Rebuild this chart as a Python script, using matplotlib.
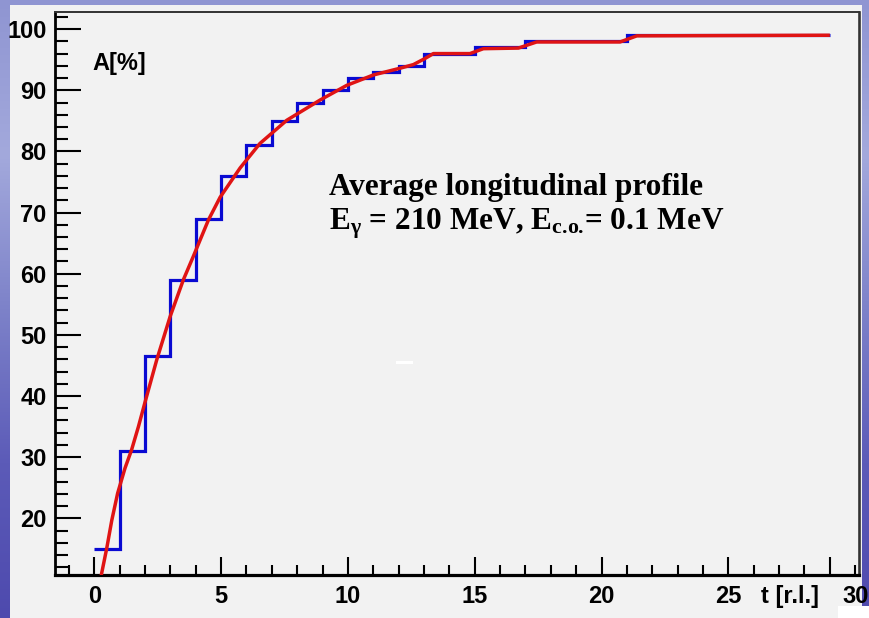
import numpy as np
import matplotlib
matplotlib.use("Agg")
import matplotlib.pyplot as plt
from matplotlib.patches import Rectangle
from matplotlib.colors import LinearSegmentedColormap
from matplotlib.ticker import MultipleLocator, FixedLocator, FixedFormatter

# Cumulative longitudinal profile, one bin per radiation length
bin_edges = list(range(0, 30))
profile_values = [15, 31, 46.5, 59, 69, 76, 81, 85, 88, 90, 92, 93, 94, 96, 96,
                  97, 97, 98, 98, 98, 98, 99, 99, 99, 99, 99, 99, 99, 99]

# Fitted curve (t, A)
fit_t = [0.26, 0.49, 0.69, 0.92, 1.21, 1.47, 1.74, 2.0, 2.46, 2.99, 3.51, 3.90,
         4.50, 4.96, 5.42, 5.75, 6.53, 7.59, 8.9, 9.95, 11.0, 12.05, 12.58,
         13.04, 13.37, 14.81, 15.34, 16.72, 17.44, 20.73, 21.39, 29.0]
fit_a = [10.4, 15.1, 19.7, 24.1, 28.2, 31.2, 35.0, 39.0, 45.9, 53.0, 59.0, 62.8,
         68.8, 72.5, 75.3, 77.3, 81.3, 85.1, 88.4, 90.8, 92.5, 93.6, 94.2,
         95.2, 96.0, 96.0, 96.8, 96.9, 97.9, 97.9, 98.9, 99.0]

x_major = [0, 5, 10, 15, 20, 25, 29]
x_labels = ["0", "5", "10", "15", "20", "25", ""]
y_major = [20, 30, 40, 50, 60, 70, 80, 90, 100]

W, H = 870, 618
fig = plt.figure(figsize=(W / 100, H / 100), dpi=100)

# Slide background: bluish gradient behind the canvas
bg = fig.add_axes([0, 0, 1, 1], zorder=-10)
grad = np.linspace(0, 1, 256)[:, None]
cmap = LinearSegmentedColormap.from_list(
    "slide", ["#8f95d2", "#a3a9dc", "#7d82c9", "#5c5bb8", "#4e4aae"])
bg.imshow(grad, aspect="auto", cmap=cmap, extent=[0, 1, 0, 1])
bg.set_axis_off()

# Light grey canvas
fig.add_artist(Rectangle((10 / W, 0), (862 - 10) / W, (H - 5) / H,
                         transform=fig.transFigure, facecolor="#f2f2f2",
                         edgecolor="none", zorder=-5))
fig.add_artist(Rectangle((838 / W, 0), (W - 838) / W, 12 / H,
                         transform=fig.transFigure, facecolor="white",
                         edgecolor="none", zorder=-4))

ax = fig.add_axes([55 / W, (H - 575) / H, (859 - 55) / W, (575 - 12) / H])
ax.set_facecolor("#f2f2f2")
ax.set_xlim(-1.55, 30.15)
ax.set_ylim(10.73, 102.8)

ax.stairs(profile_values, bin_edges, baseline=None, color="#0a0ad2",
          linewidth=2.3, zorder=3)
ax.plot(fit_t, fit_a, color="#e01414", linewidth=2.5, zorder=4,
        solid_capstyle="butt")

# Axes styling
for side, lw, col in [("left", 2.0, "black"), ("bottom", 2.3, "black"),
                      ("top", 1.4, "#333333"), ("right", 1.9, "#333333")]:
    ax.spines[side].set_linewidth(lw)
    ax.spines[side].set_color(col)

ax.yaxis.set_major_locator(FixedLocator(y_major))
ax.yaxis.set_minor_locator(MultipleLocator(2))
ax.xaxis.set_major_locator(FixedLocator(x_major))
ax.xaxis.set_major_formatter(FixedFormatter(x_labels))
ax.xaxis.set_minor_locator(MultipleLocator(1))

LABEL_SIZE = 17
lab_font = dict(family="Liberation Sans", weight="bold", size=LABEL_SIZE)
ax.tick_params(axis="y", which="major", direction="in", length=19, width=1.5,
               pad=6, labelsize=LABEL_SIZE, right=False)
ax.tick_params(axis="y", which="minor", direction="in", length=9.5, width=1.5,
               right=False)
ax.tick_params(axis="x", which="major", direction="in", length=13, width=1.5,
               pad=7, labelsize=LABEL_SIZE, top=False)
ax.tick_params(axis="x", which="minor", direction="in", length=7, width=1.5,
               top=False)
for lab in ax.get_xticklabels() + ax.get_yticklabels():
    lab.set_fontfamily("Liberation Sans")
    lab.set_fontweight("bold")

ax.text(30, -0.0175, "30", transform=ax.get_xaxis_transform(), ha="center",
        va="top", **lab_font)
ax.text(0.914, -0.0175, "t [r.l.]", transform=ax.transAxes, ha="center",
        va="top", **lab_font)
ax.text(0.047, 0.909, "A[%]", transform=ax.transAxes, ha="left", va="center",
        **lab_font)

plt.rcParams["mathtext.fontset"] = "custom"
plt.rcParams["mathtext.rm"] = "Liberation Serif:bold"
plt.rcParams["mathtext.it"] = "Liberation Serif:bold"
plt.rcParams["mathtext.bf"] = "Liberation Serif:bold"
ann_font = dict(family="Liberation Serif", weight="bold", size=22.5)
ax.text(0.341, 0.675, "Average longitudinal profile", transform=ax.transAxes,
        ha="left", va="baseline", **ann_font)
ax.text(0.341, 0.614, r"E$_{\gamma}$ = 210 MeV, E$_{\text{c.o.}}$= 0.1 MeV",
        transform=ax.transAxes, ha="left", va="baseline", **ann_font)

# small white dash in the canvas
fig.add_artist(Rectangle((396 / W, (H - 364) / H), 17 / W, 3 / H,
                         transform=fig.transFigure, facecolor="white",
                         edgecolor="none", zorder=10))

fig.savefig("out.png", dpi=100)
